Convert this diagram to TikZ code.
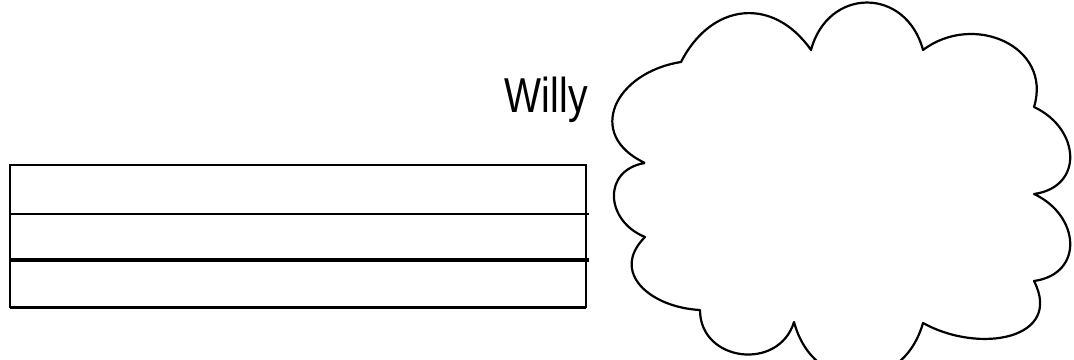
\documentclass[tikz,border=0pt]{standalone}
\usepackage{fontspec}
\setmainfont{Liberation Sans}
\begin{document}
\begin{tikzpicture}[x=0.5pt,y=0.5pt]
        % Frame
        \useasboundingbox (0,0) rectangle (1074,359);
        \clip (0,0) rectangle (1074,359);

        % Box with lines
        \draw[line width=0.75pt] (10,52) rectangle (586,194);
        \draw[line width=0.75pt] (10,145) -- (589,145);
        \draw[line width=2.2pt] (10,99) -- (589,99);
        \draw[line width=1.5pt] (10,52) -- (586,52);

        % Label
        \node[anchor=base east,inner sep=0pt,xscale=0.8,font=\fontsize{24.5}{29}\selectfont] (willy) at (588,246) {Willy};

        % Cloud cusps
        \coordinate (a) at (645,196);
        \coordinate (b) at (681,297);
        \coordinate (c) at (811,309);
        \coordinate (d) at (923,309);
        \coordinate (e) at (1034,252);
        \coordinate (f) at (1034,165);
        \coordinate (g) at (1034,78);
        \coordinate (h) at (923,36);
        \coordinate (i) at (794,37);
        \coordinate (j) at (700,49);
        \coordinate (k) at (645,122);

        % Cloud
        \draw[line width=1.1pt,line join=round] (a)
          to[out=155,in=189,looseness=1.6] (b)
          to[out=63,in=125,looseness=1.3] (c)
          to[out=75,in=105,looseness=1.5] (d)
          to[out=37,in=73,looseness=1.3] (e)
          to[out=-25,in=8,looseness=1.5] (f)
          to[out=-25,in=8,looseness=1.5] (g)
          to[out=-63,in=-29,looseness=1.4] (h)
          to[out=-106,in=-75,looseness=1.5] (i)
          to[out=-107,in=-90,looseness=1.4] (j)
          to[out=177,in=225,looseness=1.4] (k)
          to[out=158,in=189,looseness=1.5] (a);
\end{tikzpicture}
\end{document}
